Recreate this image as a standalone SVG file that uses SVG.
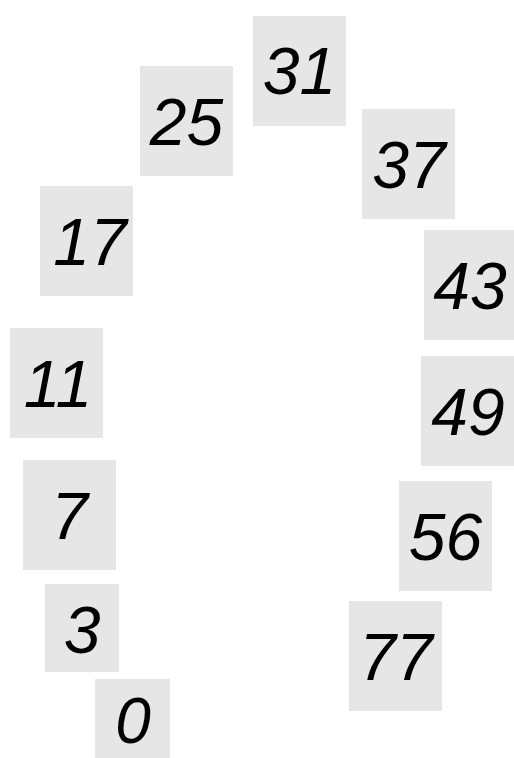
<svg xmlns="http://www.w3.org/2000/svg" width="514" height="758" viewBox="0 0 514 758">
<style>
.b{fill:#e6e6e6}
.t{font-family:"Liberation Sans","DejaVu Sans",sans-serif;font-style:italic;font-size:66px;fill:#000;text-anchor:middle}
</style>
<rect width="514" height="758" fill="#fff"/>
<g id="connectors"></g>
<g id="n25"><rect class="b" x="140" y="66" width="93" height="110"/><text class="t" x="186.5" y="145">25</text></g>
<g id="n31"><rect class="b" x="253" y="16" width="93" height="110"/><text class="t" x="299.5" y="94">31</text></g>
<g id="n37"><rect class="b" x="362" y="109" width="93" height="110"/><text class="t" x="409" y="188">37</text></g>
<g id="n17"><rect class="b" x="40" y="186" width="93" height="110"/><text class="t" x="90" y="265">17</text></g>
<g id="n43"><rect class="b" x="424" y="230" width="93" height="110"/><text class="t" x="470" y="309">43</text></g>
<g id="n11"><rect class="b" x="10" y="328" width="93" height="110"/><text class="t" x="58" y="407">11</text></g>
<g id="n49"><rect class="b" x="421" y="356" width="93" height="110"/><text class="t" x="468" y="435">49</text></g>
<g id="n7"><rect class="b" x="23" y="460" width="93" height="110"/><text class="t" x="69.5" y="539">7</text></g>
<g id="n56"><rect class="b" x="399" y="481" width="93" height="110"/><text class="t" x="445.5" y="560">56</text></g>
<g id="n3"><rect class="b" x="45" y="584" width="74" height="88"/><text class="t" x="82" y="653">3</text></g>
<g id="n77"><rect class="b" x="349" y="601" width="93" height="110"/><text class="t" x="396" y="680">77</text></g>
<g id="n0"><rect class="b" x="95" y="679" width="75" height="79"/><text class="t" x="133" y="743" style="font-size:64px">0</text></g>
</svg>
